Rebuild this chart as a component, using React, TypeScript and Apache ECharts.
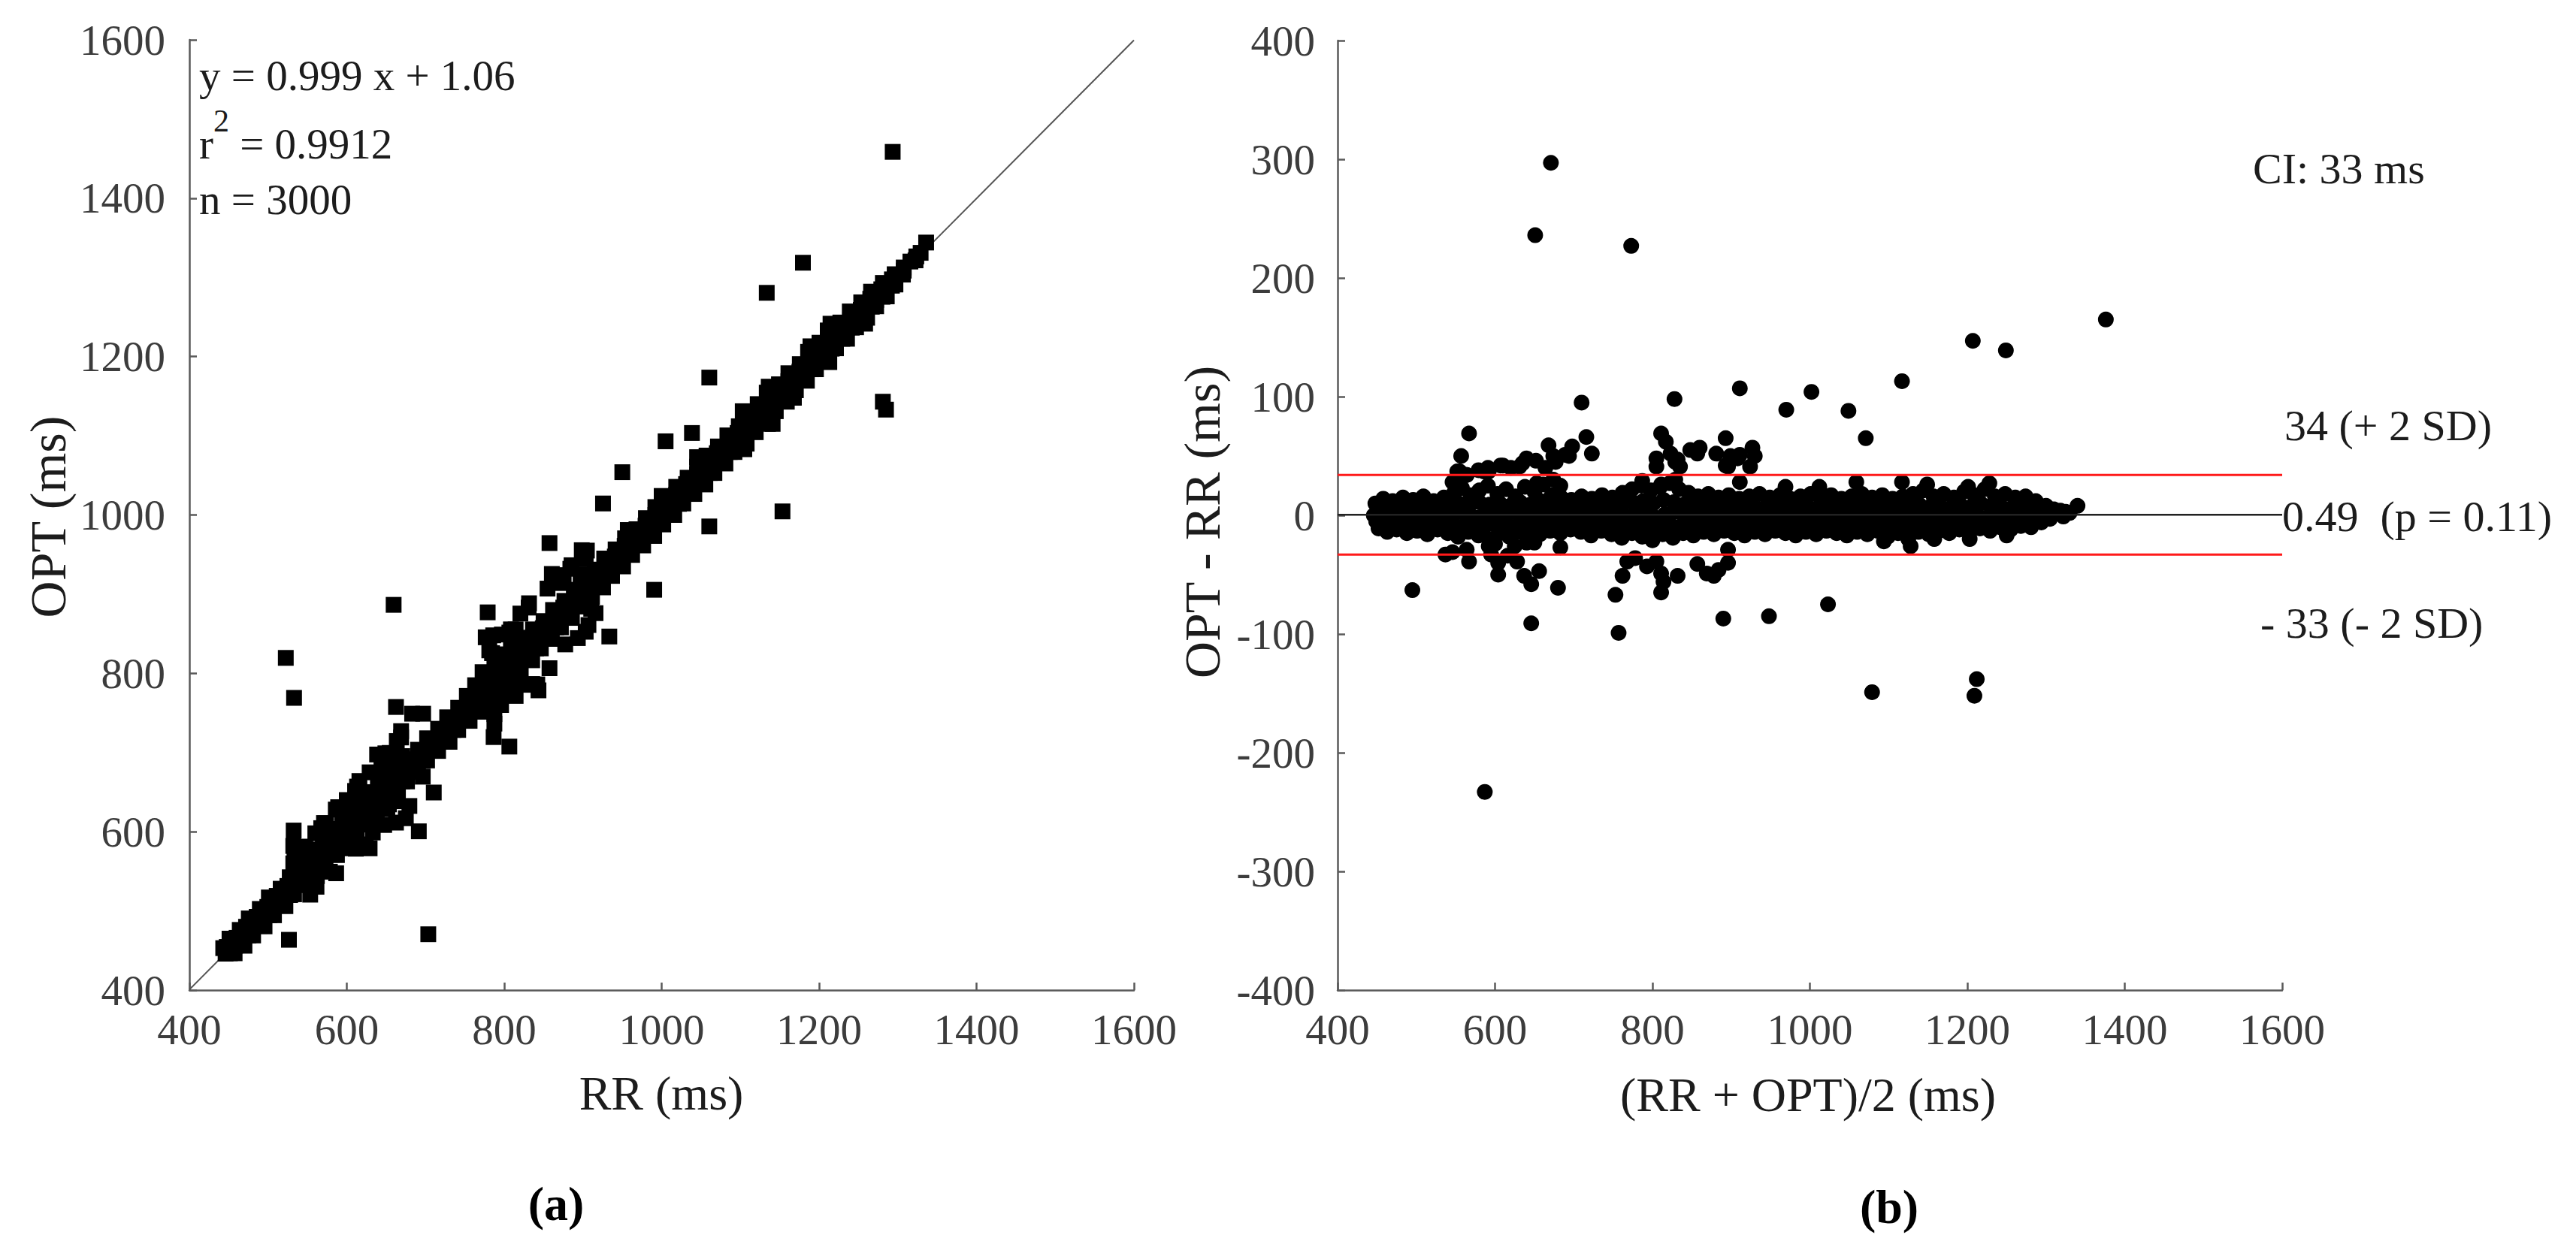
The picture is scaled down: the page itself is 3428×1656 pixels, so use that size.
import React, { useEffect, useRef } from "react";
import * as echarts from "echarts";

// ---- Bland-Altman pairs: [mean (RR+OPT)/2, difference OPT-RR] in ms ----
const bandUpper: number[][] = [
  [448, 10], [458, 14], [470, 12], [483, 15], [496, 13], [509, 16], [522, 12], [535, 15], [548, 19], [558, 23],
  [569, 17], [580, 21], [591, 25], [603, 18], [614, 22], [626, 16], [638, 24], [650, 20], [661, 26], [672, 17],
  [684, 15], [697, 13], [710, 16], [723, 14], [736, 17], [749, 15], [762, 19], [774, 22], [786, 25], [798, 21],
  [810, 24], [822, 27], [834, 22], [846, 19], [858, 16], [871, 18], [884, 15], [897, 17], [910, 14], [923, 16],
  [936, 18], [949, 15], [962, 17], [975, 14], [988, 16], [1001, 18], [1014, 15], [1027, 17], [1040, 14], [1053, 16],
  [1066, 18], [1079, 15], [1092, 17], [1105, 14], [1118, 16], [1131, 18], [1144, 21], [1157, 16], [1170, 18], [1183, 15],
  [1196, 20], [1209, 17], [1222, 22], [1235, 16], [1248, 18], [1261, 15], [1274, 16], [1287, 12], [1300, 8],
];
const bandUpperInner: number[][] = [
  [451, 7], [463, 6], [476, 8], [489, 7], [502, 6], [515, 8], [528, 7], [541, 9], [554, 10], [567, 8],
  [580, 11], [593, 9], [606, 10], [619, 8], [632, 11], [645, 9], [658, 12], [671, 8], [684, 7], [697, 6],
  [710, 8], [723, 7], [736, 6], [749, 8], [762, 9], [775, 11], [788, 12], [801, 10], [814, 13], [827, 11],
  [840, 9], [853, 8], [866, 7], [879, 8], [892, 6], [905, 7], [918, 8], [931, 6], [944, 7], [957, 8],
  [970, 6], [983, 7], [996, 8], [1009, 6], [1022, 7], [1035, 8], [1048, 6], [1061, 7], [1074, 8], [1087, 6],
  [1100, 7], [1113, 8], [1126, 6], [1139, 9], [1152, 7], [1165, 8], [1178, 6], [1191, 9], [1204, 7], [1217, 10],
  [1230, 8], [1243, 7], [1256, 6], [1269, 8], [1282, 6], [1295, 5], [1310, 5], [1325, 3],
];
const bandMiddle: number[][] = [
  [446, 0], [457, -2], [468, 2], [480, -1], [492, 1], [504, -2], [516, 2], [528, 0], [540, -1], [552, 3],
  [564, 1], [576, -2], [588, 2], [600, 0], [612, -1], [624, 3], [636, 1], [648, -2], [660, 2], [672, 0],
  [684, -1], [696, 2], [708, 0], [720, -2], [732, 1], [744, 3], [756, 0], [768, -1], [780, 2], [792, 0],
  [804, -2], [816, 1], [828, 3], [840, 0], [852, -1], [864, 2], [876, 0], [888, -2], [900, 1], [912, 3],
  [924, 0], [936, -1], [948, 2], [960, 0], [972, -2], [984, 1], [996, 3], [1008, 0], [1020, -1], [1032, 2],
  [1044, 0], [1056, -2], [1068, 1], [1080, 3], [1092, 0], [1104, -1], [1116, 2], [1128, 0], [1140, -2], [1152, 1],
  [1164, 3], [1176, 0], [1188, -1], [1200, 2], [1212, 0], [1224, -2], [1236, 1], [1248, 3], [1260, 0], [1272, -1],
  [1284, 2], [1296, 0], [1308, 1], [1318, 4], [1330, 2], [1340, 8],
];
const bandLowerInner: number[][] = [
  [449, -5], [460, -7], [472, -6], [485, -8], [498, -7], [511, -6], [524, -8], [537, -7], [550, -9], [563, -7],
  [576, -10], [589, -8], [602, -9], [615, -7], [628, -9], [641, -8], [654, -10], [667, -7], [680, -6], [693, -7],
  [706, -6], [719, -8], [732, -7], [745, -6], [758, -9], [771, -8], [784, -10], [797, -9], [810, -11], [823, -8],
  [836, -9], [849, -7], [862, -8], [875, -6], [888, -7], [901, -8], [914, -6], [927, -7], [940, -8], [953, -6],
  [966, -7], [979, -8], [992, -6], [1005, -7], [1018, -8], [1031, -6], [1044, -7], [1057, -8], [1070, -6], [1083, -7],
  [1096, -9], [1109, -7], [1122, -10], [1135, -7], [1148, -8], [1161, -6], [1174, -7], [1187, -6], [1200, -8], [1213, -6],
  [1226, -7], [1239, -5], [1252, -6], [1265, -4], [1278, -5], [1291, -3], [1305, -3], [1322, -1],
];
const bandLower: number[][] = [
  [452, -11], [463, -14], [475, -12], [488, -15], [501, -13], [514, -16], [527, -12], [540, -15], [553, -18], [566, -14],
  [579, -17], [592, -20], [605, -15], [618, -18], [631, -14], [644, -19], [657, -16], [670, -13], [683, -15], [696, -12],
  [709, -14], [722, -17], [735, -13], [748, -16], [761, -19], [774, -15], [787, -18], [800, -21], [813, -16], [826, -19],
  [839, -15], [852, -17], [865, -14], [878, -16], [891, -13], [904, -15], [917, -17], [930, -14], [943, -16], [956, -13],
  [969, -15], [982, -17], [995, -14], [1008, -16], [1021, -13], [1034, -15], [1047, -17], [1060, -14], [1073, -16], [1086, -13],
  [1099, -18], [1112, -15], [1125, -20], [1138, -14], [1151, -16], [1164, -13], [1177, -15], [1190, -12], [1203, -14], [1216, -11],
  [1229, -13], [1242, -10], [1255, -12], [1268, -9], [1281, -10], [1294, -6],
];
const bandBumps: number[][] = [
  [549, 27], [555, 37], [564, 34], [592, 37], [653, 27], [674, 30], [683, 25], [787, 29], [811, 26], [829, 30],
  [911, 28], [969, 24], [1012, 24], [1149, 26], [1201, 24], [1228, 27], [600, -24], [625, -26], [650, -23], [1094, -22],
  [1128, -26], [1158, -20], [1203, -20], [1250, -17],
];
const upperCluster: number[][] = [
  [546, 28], [552, 37], [557, 50], [564, 34], [579, 38], [586, 37], [591, 40], [607, 42], [610, 42], [620, 40],
  [631, 41], [635, 44], [640, 48], [652, 46], [664, 40], [668, 59], [674, 50], [677, 45], [689, 51], [694, 50],
  [698, 58], [716, 66], [723, 52], [567, 69], [805, 48], [805, 41], [811, 69], [817, 62], [823, 52], [829, 45],
  [832, 47], [835, 41], [848, 55], [857, 52], [860, 57], [881, 52], [893, 65], [893, 42], [896, 41], [899, 50],
  [908, 48], [911, 51], [924, 41], [927, 57], [930, 50],
];
const lowerCluster: number[][] = [
  [537, -33], [546, -31], [564, -29], [567, -39], [592, -26], [595, -33], [604, -40], [604, -50], [616, -34], [628, -39],
  [637, -51], [646, -58], [656, -47], [640, -23], [683, -27], [680, -61], [753, -67], [762, -51], [768, -39], [778, -36],
  [793, -43], [805, -39], [811, -49], [814, -56], [832, -51], [811, -65], [857, -41], [869, -49], [878, -51], [884, -46],
  [896, -40], [896, -29],
];
const upperOutliers: number[][] = [
  [671, 297], [651, 236], [773, 227], [1376, 165], [1207, 147], [1249, 139], [1117, 113], [911, 107], [1002, 104], [970, 89],
  [1049, 88], [828, 98], [710, 95], [1071, 65], [1059, 28], [1117, 28],
];
const lowerOutliers: number[][] = [
  [495, -63], [646, -91], [757, -99], [890, -87], [948, -85], [1023, -75], [1079, -149], [1212, -138], [1209, -152], [587, -233],
];

// ---- statistics ----
const regressionSlope = 0.999;
const regressionIntercept = 1.06;
const meanBias = 0.49;
const upperLimit = 34;
const lowerLimit = -33;
const axisRangeMs = [400, 1600];
const diffRange = [-400, 400];

const baPoints = [
  ...bandUpper, ...bandUpperInner, ...bandMiddle, ...bandLowerInner, ...bandLower, ...bandBumps,
  ...upperCluster, ...lowerCluster, ...upperOutliers, ...lowerOutliers,
];
// RR = mean - diff/2, OPT = mean + diff/2
const scatterData = baPoints.map(([m, d]) => [m - d / 2, m + d / 2]);

const FONT = "'Liberation Serif', 'Times New Roman', serif";
const AXIS_COLOR = "#5a5a5a";
const LABEL_COLOR = "#3c3c3c";
const TEXT_COLOR = "#1c1c1c";

function axisCommon(min: number, max: number, interval: number, gridIndex: number, margin: number) {
  return {
    type: "value",
    gridIndex,
    min,
    max,
    interval,
    axisLine: { show: true, onZero: false, lineStyle: { color: AXIS_COLOR, width: 2.5 } },
    axisTick: { show: true, inside: true, length: 10, lineStyle: { color: AXIS_COLOR, width: 2.5 } },
    splitLine: { show: false },
    axisLabel: {
      fontSize: 57,
      fontFamily: FONT,
      color: LABEL_COLOR,
      margin,
      formatter: (v: number) => String(v),
    },
  };
}

function txt(text: string, x: number, y: number, size: number, opts: any = {}) {
  return {
    type: "text",
    x,
    y,
    rotation: opts.rotation || 0,
    silent: true,
    style: {
      text,
      fill: opts.fill || TEXT_COLOR,
      fontSize: size,
      fontFamily: FONT,
      fontWeight: opts.bold ? "bold" : "normal",
      align: opts.align || "left",
      verticalAlign: "middle",
    },
  };
}

export default function App() {
  const ref = useRef<HTMLDivElement>(null);
  useEffect(() => {
    if (!ref.current) return;
    const chart = echarts.init(ref.current, undefined, { renderer: "svg" });
    const [lo, hi] = axisRangeMs;
    chart.setOption({
      animation: false,
      backgroundColor: "#ffffff",
      grid: [
        { left: 252, top: 53, width: 1257, height: 1265 },
        { left: 1780, top: 54, width: 1257, height: 1264 },
      ],
      xAxis: [
        axisCommon(lo, hi, 200, 0, 24),
        axisCommon(lo, hi, 200, 1, 24),
      ],
      yAxis: [
        axisCommon(lo, hi, 200, 0, 32),
        axisCommon(diffRange[0], diffRange[1], 100, 1, 30),
      ],
      series: [
        {
          type: "line",
          xAxisIndex: 0,
          yAxisIndex: 0,
          data: [lo, hi].map((x) => [x, regressionSlope * x + regressionIntercept]),
          symbol: "none",
          lineStyle: { color: "#555555", width: 2 },
          z: 1,
        },
        {
          type: "scatter",
          xAxisIndex: 0,
          yAxisIndex: 0,
          data: scatterData,
          symbol: "rect",
          symbolSize: 21,
          itemStyle: { color: "#000000", opacity: 1 },
          z: 2,
        },
        {
          type: "scatter",
          xAxisIndex: 1,
          yAxisIndex: 1,
          data: baPoints,
          symbol: "circle",
          symbolSize: 21,
          itemStyle: { color: "#000000", opacity: 1 },
          z: 2,
        },
        {
          type: "line",
          xAxisIndex: 1,
          yAxisIndex: 1,
          data: [lo, hi].map((x) => [x, meanBias]),
          symbol: "none",
          lineStyle: { color: "#222222", width: 2.5 },
          z: 3,
        },
        {
          type: "line",
          xAxisIndex: 1,
          yAxisIndex: 1,
          data: [lo, hi].map((x) => [x, upperLimit]),
          symbol: "none",
          lineStyle: { color: "#ff1a1a", width: 3 },
          z: 3,
        },
        {
          type: "line",
          xAxisIndex: 1,
          yAxisIndex: 1,
          data: [lo, hi].map((x) => [x, lowerLimit]),
          symbol: "none",
          lineStyle: { color: "#ff1a1a", width: 3 },
          z: 3,
        },
      ],
      graphic: [
        txt("y = 0.999 x + 1.06", 265, 100, 57),
        {
          type: "text",
          x: 265,
          y: 180,
          silent: true,
          style: {
            text: "{a|r}{b|2}{a| = 0.9912}",
            align: "left",
            verticalAlign: "middle",
            fill: TEXT_COLOR,
            rich: {
              a: { fontSize: 57, fontFamily: FONT, fill: TEXT_COLOR, lineHeight: 80, verticalAlign: "bottom" },
              b: { fontSize: 42, fontFamily: FONT, fill: TEXT_COLOR, lineHeight: 40, verticalAlign: "top" },
            },
          },
        },
        txt("n = 3000", 265, 265, 57),
        txt("OPT (ms)", 64, 688, 68, { rotation: Math.PI / 2, align: "center" }),
        txt("RR (ms)", 880, 1455, 64, { align: "center" }),
        txt("(a)", 740, 1602, 64, { align: "center", bold: true, fill: "#000" }),
        txt("OPT - RR (ms)", 1600, 695, 68, { rotation: Math.PI / 2, align: "center" }),
        txt("(RR + OPT)/2 (ms)", 2406, 1457, 64, { align: "center" }),
        txt("(b)", 2514, 1606, 64, { align: "center", bold: true, fill: "#000" }),
        txt("CI: 33 ms", 2998, 224, 58),
        txt("34 (+ 2 SD)", 3040, 566, 58),
        txt("0.49  (p = 0.11)", 3037, 687, 58),
        txt("- 33 (- 2 SD)", 3008, 829, 58),
      ],
    });
    return () => chart.dispose();
  }, []);
  return (
    <div
      ref={ref}
      style={{ position: "fixed", left: 0, top: 0, width: 3428, height: 1656, background: "#fff" }}
    />
  );
}
